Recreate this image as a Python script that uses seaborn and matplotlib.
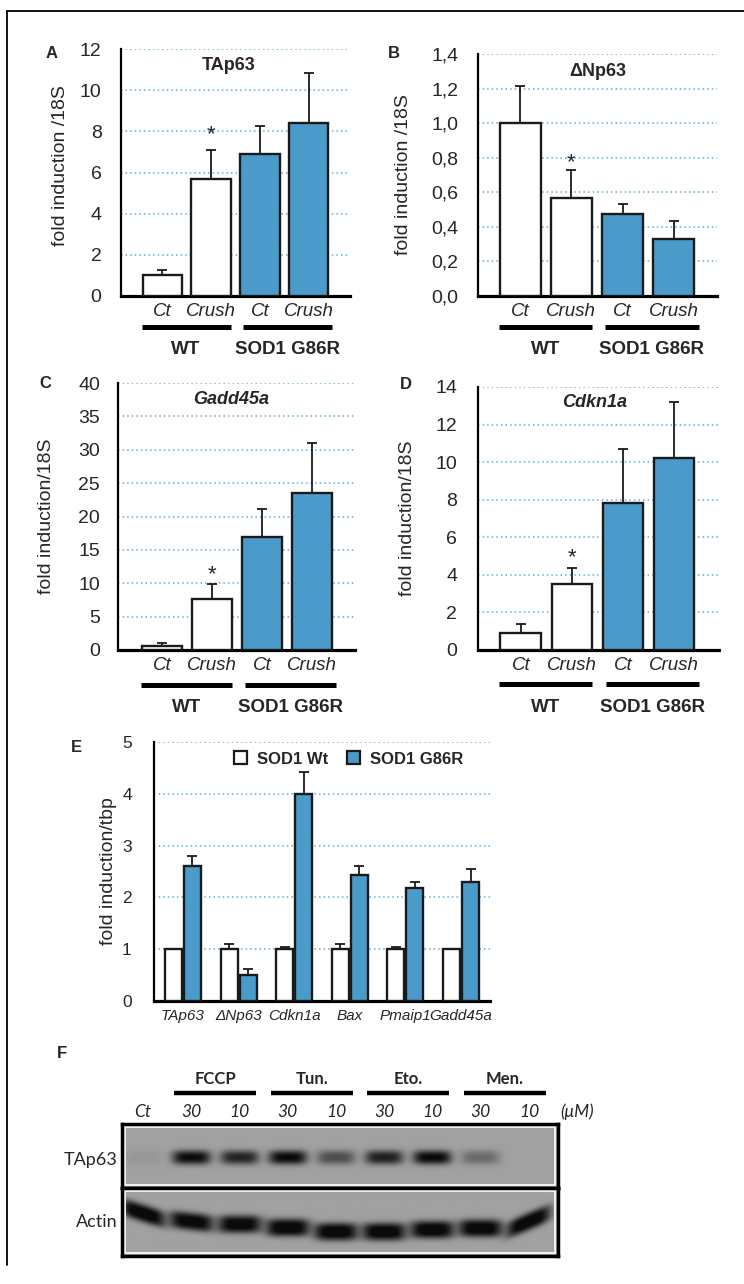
import numpy as np
import pandas as pd
import seaborn as sns
import matplotlib.pyplot as plt
import matplotlib.transforms as mtransforms
from matplotlib.patches import Patch, Rectangle
from matplotlib.lines import Line2D

W, H = 744, 1284
BLUE = '#4a9bca'
EDGE = '#1a1a1a'
GRID = '#5eaee0'
CALI = ['Lato', 'DejaVu Sans']

# panels A-D: qPCR after nerve crush
conds = ['Ct', 'Crush', 'Ct', 'Crush']
groups = ['WT', 'WT', 'SOD1 G86R', 'SOD1 G86R']
tap63_mean = [1.0, 5.7, 6.9, 8.4]
tap63_err = [0.27, 1.37, 1.36, 2.44]
dnp63_mean = [1.0, 0.567, 0.475, 0.33]
dnp63_err = [0.215, 0.163, 0.055, 0.105]
gadd_mean = [0.6, 7.6, 16.9, 23.5]
gadd_err = [0.4, 2.3, 4.2, 7.5]
cdkn_mean = [0.9, 3.5, 7.82, 10.2]
cdkn_err = [0.48, 0.86, 2.88, 3.0]

# panel E
genes = ['TAp63', 'ΔNp63', 'Cdkn1a', 'Bax', 'Pmaip1', 'Gadd45a']
wt_mean = [1.0, 1.0, 1.0, 1.0, 1.0, 1.0]
wt_err = [0.0, 0.1, 0.04, 0.1, 0.04, 0.0]
g86r_mean = [2.6, 0.5, 4.0, 2.43, 2.18, 2.3]
g86r_err = [0.2, 0.12, 0.43, 0.17, 0.12, 0.25]

# panel F: western blot, relative band strength per lane
lane_labels = ['Ct', '30', '10', '30', '10', '30', '10', '30', '10']
treatments = ['FCCP', 'Tun.', 'Eto.', 'Men.']
tap63_signal = [0.06, 0.9, 0.75, 0.92, 0.5, 0.78, 0.92, 0.33, 0.0]
actin_signal = [1.0, 0.97, 0.97, 1.0, 1.0, 1.0, 1.0, 1.0, 1.0]
actin_row = [0.38, 0.5, 0.54, 0.59, 0.65, 0.65, 0.62, 0.6, 0.5]
actin_tilt = [0.22, 0.08, 0.0, 0.0, 0.0, 0.0, 0.0, 0.0, -0.3]

sns.set_theme(style='white')
plt.rcParams['font.family'] = ['Liberation Sans', 'DejaVu Sans']

fig = plt.figure(figsize=(W / 100, H / 100), dpi=100)


def add_ax(l, t, r, b):
    return fig.add_axes([l / W, 1 - b / H, (r - l) / W, (b - t) / H])


def style_ax(ax, ticks, labels, ylabel, lab_x, lab_y, l, r, fs):
    ax.set_yticks(ticks, labels, fontsize=fs)
    ax.set_ylim(ticks[0], ticks[-1])
    ax.yaxis.grid(True, linestyle=(0, (1, 2)), color=GRID, linewidth=1.1)
    ax.xaxis.grid(False)
    ax.set_axisbelow(True)
    for s in ['top', 'right']:
        ax.spines[s].set_visible(False)
    ax.spines['left'].set_linewidth(1.6)
    ax.spines['bottom'].set_linewidth(2.3)
    ax.spines['left'].set_color('black')
    ax.spines['bottom'].set_color('black')
    ax.tick_params(length=0)
    ax.set_xlabel('')
    ax.set_ylabel(ylabel, fontsize=14)
    ax.yaxis.set_label_coords((lab_x - l) / (r - l), lab_y)


panels = [
    dict(rect=(121, 49, 350, 296), mean=tap63_mean, err=tap63_err, ticks=np.arange(0, 13, 2),
         fmt=lambda v: f'{v:.0f}', xlim=(-0.84, 3.84), title='TAp63', tstyle='normal',
         txy=(229, 70.5), letter='A', lxy=(52, 57.5), ylabel='fold induction /18S',
         lab=(69, 0.53), star=7.5, grp=(327, 354), pad=14),
    dict(rect=(478, 54, 717, 296), mean=dnp63_mean, err=dnp63_err,
         ticks=np.round(np.arange(0, 1.41, 0.2), 1),
         fmt=lambda v: f'{v:.1f}'.replace('.', ','), xlim=(-0.82, 3.84), title='ΔNp63',
         tstyle='normal', txy=(598, 76.5), letter='B', lxy=(394, 58), ylabel='fold induction /18S',
         lab=(412, 0.5), star=1.0, grp=(327, 354), pad=14),
    dict(rect=(118, 383, 355, 650), mean=gadd_mean, err=gadd_err, ticks=np.arange(0, 41, 5),
         fmt=lambda v: f'{v:.0f}', xlim=(-0.88, 3.86), title='Gadd45a', tstyle='italic',
         txy=(231, 404), letter='C', lxy=(45, 388), ylabel='fold induction/18S',
         lab=(55, 0.5), star=3.0, grp=(685, 712), pad=13),
    dict(rect=(478, 387, 719, 650), mean=cdkn_mean, err=cdkn_err, ticks=np.arange(0, 15, 2),
         fmt=lambda v: f'{v:.0f}', xlim=(-0.84, 3.88), title='Cdkn1a', tstyle='italic',
         txy=(595, 407), letter='D', lxy=(406, 389), ylabel='fold induction/18S',
         lab=(416, 0.5), star=3.8, grp=(684, 712), pad=15),
]

for p in panels:
    l, t, r, b = p['rect']
    ax = add_ax(l, t, r, b)
    df = pd.DataFrame({'bar': [f'{g} {c}' for g, c in zip(groups, conds)],
                       'val': p['mean'], 'group': groups})
    sns.barplot(data=df, x='bar', y='val', hue='group', dodge=False, width=0.8,
                palette={'WT': 'white', 'SOD1 G86R': BLUE}, saturation=1,
                edgecolor=EDGE, linewidth=1.7, errorbar=None, legend=False, ax=ax, zorder=3)
    xs = np.arange(len(p['mean']))
    ax.errorbar(xs, p['mean'], yerr=[np.zeros(len(xs)), p['err']], fmt='none',
                ecolor=EDGE, elinewidth=1.3, capsize=3.6, capthick=1.3, zorder=2)
    style_ax(ax, p['ticks'], [p['fmt'](v) for v in p['ticks']], p['ylabel'],
             p['lab'][0], p['lab'][1], l, r, 14)
    ax.tick_params(axis='y', pad=p['pad'])
    ax.set_xticks(xs, conds, fontstyle='italic', fontsize=13.5)
    ax.tick_params(axis='x', pad=5)
    ax.set_xlim(*p['xlim'])
    # significance star over WT crush
    ax.annotate('*', (1, p['mean'][1] + p['err'][1]), xytext=(0, p['star']),
                textcoords='offset points', ha='center', va='baseline', fontsize=16)
    # genotype bars under the conditions
    tr = mtransforms.blended_transform_factory(ax.transData, fig.transFigure)
    gy, ly = p['grp']
    for x0, x1, name in [(-0.42, 1.4, 'WT'), (1.66, 3.48, 'SOD1 G86R')]:
        ax.add_line(Line2D([x0, x1], [1 - gy / H] * 2, transform=tr, color='black', lw=3.6,
                           solid_capstyle='butt', clip_on=False))
        ax.text((x0 + x1) / 2, 1 - ly / H, name, transform=tr, ha='center', va='baseline',
                fontsize=13.5, fontweight='bold', clip_on=False)
    fig.text(p['txy'][0] / W, 1 - p['txy'][1] / H, p['title'], ha='center', va='baseline',
             fontsize=13, fontweight='bold', fontstyle=p['tstyle'])
    fig.text(p['lxy'][0] / W, 1 - p['lxy'][1] / H, p['letter'], ha='center', va='baseline',
             fontsize=12, fontweight='bold')

# panel E
l, t, r, b = 154, 742, 490, 1001
ax_e = add_ax(l, t, r, b)
df_e = pd.DataFrame({'gene': genes * 2,
                     'geno': ['SOD1 Wt'] * len(genes) + ['SOD1 G86R'] * len(genes),
                     'val': wt_mean + g86r_mean})
sns.barplot(data=df_e, x='gene', y='val', hue='geno', width=0.68, gap=0.1,
            palette={'SOD1 Wt': 'white', 'SOD1 G86R': BLUE}, saturation=1,
            edgecolor=EDGE, linewidth=1.7, errorbar=None, legend=False, ax=ax_e, zorder=3)
bars = sorted(ax_e.patches, key=lambda pt: pt.get_x())
vals = [v for pair in zip(wt_mean, g86r_mean) for v in pair]
errs = [v for pair in zip(wt_err, g86r_err) for v in pair]
for bar, v, e in zip(bars, vals, errs):
    if e > 0:
        ax_e.errorbar(bar.get_x() + bar.get_width() / 2, v, yerr=[[0], [e]], fmt='none',
                      ecolor=EDGE, elinewidth=1.3, capsize=3.6, capthick=1.3, zorder=2)
ticks_e = np.arange(0, 6, 1)
style_ax(ax_e, ticks_e, [str(v) for v in ticks_e], 'fold induction/tbp', 117, 0.5, l, r, 12.5)
ax_e.tick_params(axis='y', pad=16)
ax_e.set_xticks(range(len(genes)), genes, fontstyle='italic', fontsize=11)
ax_e.tick_params(axis='x', pad=6)
ax_e.set_xlim(-0.52, 5.52)
handles = [Patch(fc='white', ec=EDGE, lw=1.6, label='SOD1 Wt'),
           Patch(fc=BLUE, ec=EDGE, lw=1.6, label='SOD1 G86R')]
fig.legend(handles=handles, loc='center left', bbox_to_anchor=(234 / W, 1 - 759 / H), ncol=2,
           frameon=False, borderpad=0, borderaxespad=0, handlelength=0.8, handleheight=0.8,
           handletextpad=0.6, columnspacing=1.1,
           prop=dict(weight='bold', size=12))
fig.text(76 / W, 1 - 752 / H, 'E', ha='center', va='baseline', fontsize=12, fontweight='bold')

# panel F: blot
xl, xr = -0.435, 8.6


def blot(ax, signal, rows, tilt, hw, hh, py):
    X, Y = np.meshgrid(np.linspace(xl, xr, 440), np.linspace(0, 1, 70))
    img = np.full(X.shape, 0.63)
    for i, s in enumerate(signal):
        dx = X - i
        dark = s * np.exp(-(dx / hw) ** 4) * np.exp(-np.abs((Y - rows[i] - tilt[i] * dx) / hh) ** py)
        img = img - (img - 0.04) * np.clip(dark * 1.1, 0, 1)
    ax.imshow(img, cmap='gray', vmin=0, vmax=1, extent=(xl, xr, 1, 0), aspect='auto',
              interpolation='bilinear')
    ax.set_xlim(xl, xr)
    ax.set_ylim(1, 0)
    ax.set_xticks([])
    ax.set_yticks([])
    for s in ax.spines.values():
        s.set_visible(True)
        s.set_color('black')
        s.set_linewidth(2.5)
    bb = ax.get_position()
    dx_ = 3.2 / (bb.width * W)
    dy_ = 3.2 / (bb.height * H)
    ax.add_patch(Rectangle((dx_, dy_), 1 - 2 * dx_, 1 - 2 * dy_, transform=ax.transAxes,
                           fill=False, ec='#f2f2f2', lw=1.4))


ax_t = add_ax(122, 1124, 558, 1188)
blot(ax_t, tap63_signal, [0.53] * len(tap63_signal), [0.0] * len(tap63_signal), 0.4, 0.11, 2.5)
ax_a = add_ax(122, 1188, 558, 1256)
blot(ax_a, actin_signal, actin_row, actin_tilt, 0.46, 0.13, 3)

fig.text(118 / W, 1 - 1160 / H, 'TAp63', ha='right', va='center', fontsize=13, family=CALI)
fig.text(118 / W, 1 - 1222 / H, 'Actin', ha='right', va='center', fontsize=13, family=CALI)
tr = mtransforms.blended_transform_factory(ax_t.transData, fig.transFigure)
for k, name in enumerate(treatments):
    c = 1.5 + 2 * k
    ax_t.add_line(Line2D([c - 0.85, c + 0.85], [1 - 1093 / H] * 2, transform=tr, color='black',
                         lw=3.2, solid_capstyle='butt', clip_on=False))
    ax_t.text(c, 1 - 1084 / H, name, transform=tr, ha='center', va='baseline', fontsize=12,
              fontweight='bold', family=CALI, clip_on=False)
for i, name in enumerate(lane_labels + ['(μM)']):
    ax_t.text(i, 1 - 1117 / H, name, transform=tr, ha='center', va='baseline', fontsize=12.5,
              fontstyle='italic', family=CALI, clip_on=False)
fig.text(62 / W, 1 - 1058 / H, 'F', ha='center', va='baseline', fontsize=12, fontweight='bold')

# outer frame (top and left edges)
fig.add_artist(Line2D([7 / W, 1], [1 - 11 / H] * 2, color='black', lw=1.3,
                      transform=fig.transFigure))
fig.add_artist(Line2D([7 / W] * 2, [1 - 11 / H, 1 - 1265 / H], color='black', lw=1.3,
                      transform=fig.transFigure))

fig.savefig('out.png', dpi=100)
